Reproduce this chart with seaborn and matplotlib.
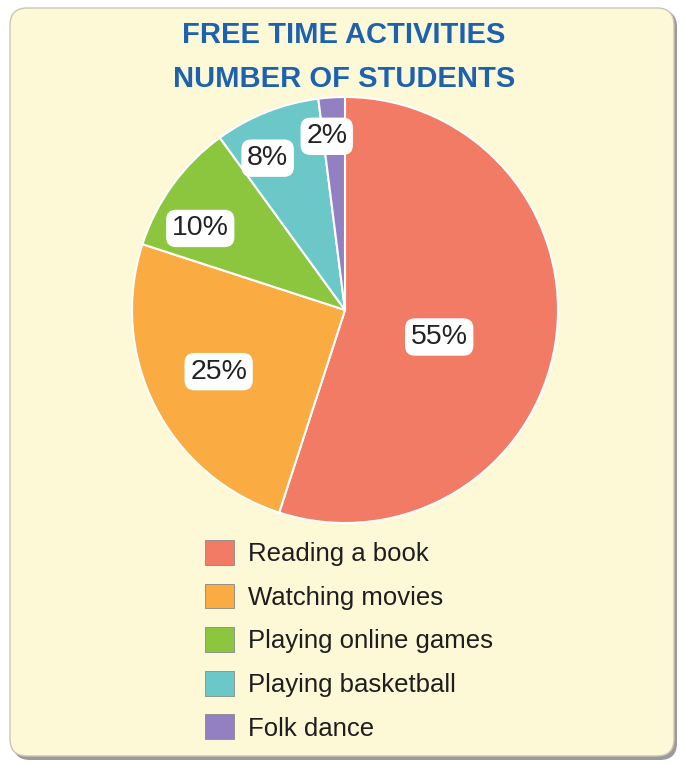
import matplotlib
matplotlib.use("Agg")
import matplotlib.pyplot as plt
import seaborn as sns
import numpy as np
from matplotlib.patches import FancyBboxPatch

activities = ["Reading a book", "Watching movies", "Playing online games",
              "Playing basketball", "Folk dance"]
percents = [55, 25, 10, 8, 2]
pct_labels = ["55%", "25%", "10%", "8%", "2%"]
colors = ["#F27B66", "#FAAC42", "#8CC63F", "#6CC7C9", "#9280C2"]
label_dist = [0.46, 0.66, 0.78, 0.80, 0.82]
label_shift = [-7, -1, 6.6, 5.4, 2.4]

sns.set_theme(style="white")
plt.rcParams['font.family'] = ['Liberation Sans', 'DejaVu Sans']

W, H = 682, 765
fig = plt.figure(figsize=(W / 100, H / 100), dpi=100)
fig.patch.set_facecolor("white")

# background card
shadow = FancyBboxPatch((13 / W, 5 / H), 664 / W, 750 / H,
                        boxstyle="round,pad=0,rounding_size=0.025",
                        transform=fig.transFigure, facecolor="#9a9a9a",
                        edgecolor="none", zorder=0, mutation_aspect=W / H)
card = FancyBboxPatch((10 / W, 9 / H), 664 / W, 748 / H,
                      boxstyle="round,pad=0,rounding_size=0.025",
                      transform=fig.transFigure, facecolor="#FDF8D6",
                      edgecolor="#C8C6B8", linewidth=1.0, zorder=1,
                      mutation_aspect=W / H)
fig.patches.extend([shadow, card])

# title
fig.text(344 / W, 1 - 35 / H, "FREE TIME ACTIVITIES", ha="center", va="center",
         fontsize=21, fontweight="bold", color="#1C62B0")
fig.text(344 / W, 1 - 79 / H, "NUMBER OF STUDENTS", ha="center", va="center",
         fontsize=21, fontweight="bold", color="#1C62B0")

# pie
cx, cy, R = 345, 310, 213
ax = fig.add_axes([(cx - R) / W, 1 - (cy + R) / H, 2 * R / W, 2 * R / H])
ax.set_zorder(2)
wedges, _ = ax.pie(percents, colors=colors, startangle=90, counterclock=False,
                   wedgeprops=dict(edgecolor="white", linewidth=1.5))
ax.set_aspect("equal")
ax.set_xlim(-1, 1)
ax.set_ylim(-1, 1)
ax.axis("off")

for w, lab, d, s in zip(wedges, pct_labels, label_dist, label_shift):
    ang = np.deg2rad((w.theta1 + w.theta2) / 2 + s)
    ax.text(d * np.cos(ang), d * np.sin(ang), lab, ha="center", va="center",
            fontsize=20.5, color="#222222",
            bbox=dict(boxstyle="round,pad=0.2,rounding_size=0.35",
                      facecolor="white", edgecolor="none"))

# legend
leg = fig.legend(wedges, activities, loc="upper left",
                 bbox_to_anchor=(195 / W, 1 - 530 / H),
                 frameon=False, fontsize=18.5, labelcolor="#1e1e1e",
                 handlelength=1.1, handleheight=1.1, handletextpad=0.55,
                 labelspacing=0.68, borderaxespad=0)
for h in leg.legend_handles:
    h.set_edgecolor("#888888")
    h.set_linewidth(0.6)

fig.savefig("out.png", dpi=100, facecolor=fig.get_facecolor())
